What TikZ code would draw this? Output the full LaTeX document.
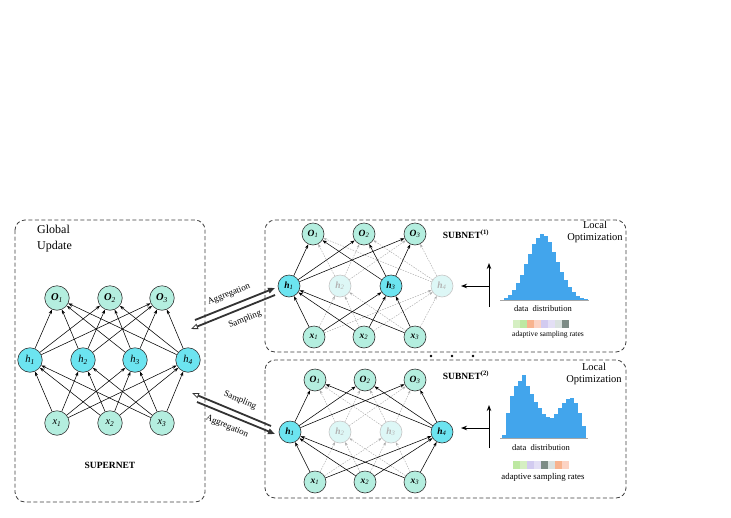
\documentclass[tikz,border=0pt]{standalone}
\usepackage{fontspec}
\setmainfont{Liberation Serif}
\usetikzlibrary{arrows.meta}
\definecolor{nodeteal}{HTML}{B4EEDF}
\definecolor{nodecyan}{HTML}{6CE4F0}
\definecolor{nodefade}{HTML}{DDF7F6}
\definecolor{histblue}{HTML}{42A5EC}
\definecolor{cgA}{HTML}{D5EFC2}
\definecolor{cgB}{HTML}{BDE8A2}
\definecolor{coA}{HTML}{F8B38E}
\definecolor{cpA}{HTML}{FCD3C4}
\definecolor{clA}{HTML}{D2CBF0}
\definecolor{clB}{HTML}{E3DFF5}
\definecolor{cyA}{HTML}{DAE2E0}
\definecolor{cdA}{HTML}{7D8C86}
\newcommand{\nlab}[2]{\textbf{\textit{#1}}\textsubscript{\textit{#2}}}
\newcommand{\ilab}[2]{\textit{#1}\textsubscript{\textit{#2}}}
\begin{document}
\begin{tikzpicture}[x=1pt,y=-1pt,
  neuron/.style={circle, draw=black!80, line width=0.6pt, inner sep=0pt},
  supio/.style={neuron, fill=nodeteal, minimum size=24.5pt, font=\fontsize{10.5}{10.5}\selectfont},
  suphid/.style={neuron, fill=nodecyan, minimum size=24.5pt, font=\fontsize{10.5}{10.5}\selectfont},
  subio/.style={neuron, fill=nodeteal, minimum size=22pt, font=\fontsize{9.5}{9.5}\selectfont},
  subhid/.style={neuron, fill=nodecyan, minimum size=22pt, font=\fontsize{9.5}{9.5}\selectfont},
  subfade/.style={neuron, draw=gray!45, fill=nodefade, text=gray!60, minimum size=22pt, font=\fontsize{9.5}{9.5}\selectfont},
  conn/.style={-{Stealth[length=4.5pt,width=3.2pt]}, line width=0.55pt, black},
  fadeconn/.style={-{Stealth[length=3.5pt,width=2.6pt]}, line width=0.45pt, gray!65, dash pattern=on 1.5pt off 1.2pt},
  dbox/.style={draw=black!75, line width=0.8pt, dash pattern=on 4pt off 2.5pt, rounded corners=10pt},
  bigsolid/.style={-{Triangle[length=7pt,width=5.5pt]}, line width=1.8pt, black!80},
  bigopen/.style={-{Triangle[open,length=7pt,width=5.5pt,line width=0.8pt]}, line width=1.8pt, black!80},
  histarrow/.style={-{Stealth[length=6pt,width=4.5pt]}, line width=1pt, black},
  txt/.style={inner sep=0pt}
]
\useasboundingbox (0,0) rectangle (731,517);
\fill[white] (0,0) rectangle (731,517);

% ---------------- boxes
\draw[dbox] (15,220) rectangle (205,502);
\draw[dbox] (265,220) rectangle (626,352);
\draw[dbox] (265,360) rectangle (626,498);

% ---------------- SUPERNET
\node[supio] (so1) at (57,298) {\nlab{O}{1}};
\node[supio] (so2) at (110,298) {\nlab{O}{2}};
\node[supio] (so3) at (162,298) {\nlab{O}{3}};
\node[suphid] (sh1) at (30,360) {\ilab{h}{1}};
\node[suphid] (sh2) at (83,360) {\ilab{h}{2}};
\node[suphid] (sh3) at (135,360) {\ilab{h}{3}};
\node[suphid] (sh4) at (188,360) {\ilab{h}{4}};
\node[supio] (sx1) at (57,423) {\ilab{x}{1}};
\node[supio] (sx2) at (110,423) {\ilab{x}{2}};
\node[supio] (sx3) at (162,423) {\ilab{x}{3}};
\foreach \i in {1,2,3} \foreach \j in {1,2,3,4} \draw[conn] (sx\i) -- (sh\j);
\foreach \j in {1,2,3,4} \foreach \k in {1,2,3} \draw[conn] (sh\j) -- (so\k);
\node[txt, align=left, anchor=north west, font=\fontsize{12}{16}\selectfont] (glob) at (37,225) {Global\\Update};
\node[txt, font=\bfseries\fontsize{9.5}{10}\selectfont] (supl) at (110,465) {SUPERNET};

% ---------------- SUBNET 1
\node[subio] (ao1) at (313,234) {\nlab{O}{1}};
\node[subio] (ao2) at (364,234) {\nlab{O}{2}};
\node[subio] (ao3) at (415,234) {\nlab{O}{3}};
\node[subhid] (ah1) at (289,286) {\nlab{h}{1}};
\node[subfade] (ah2) at (340,286) {\nlab{h}{2}};
\node[subhid] (ah3) at (391,286) {\nlab{h}{3}};
\node[subfade] (ah4) at (442,286) {\nlab{h}{4}};
\node[subio] (ax1) at (314,337) {\nlab{x}{1}};
\node[subio] (ax2) at (364,337) {\nlab{x}{2}};
\node[subio] (ax3) at (415,337) {\nlab{x}{3}};
\foreach \j in {2,4} {
  \foreach \i in {1,2,3} \draw[fadeconn] (ax\i) -- (ah\j);
  \foreach \k in {1,2,3} \draw[fadeconn] (ah\j) -- (ao\k);
}
\foreach \j in {1,3} {
  \foreach \i in {1,2,3} \draw[conn] (ax\i) -- (ah\j);
  \foreach \k in {1,2,3} \draw[conn] (ah\j) -- (ao\k);
}
\node[txt, font=\bfseries\fontsize{9.5}{10}\selectfont] (sub1) at (466,234) {SUBNET\textsuperscript{(1)}};
\node[txt, align=center, font=\fontsize{10.5}{12.5}\selectfont] (loc1) at (595,232) {Local\\Optimization};

% histogram 1
\foreach \x/\h in {504/2,508/5,512/10,516/17,520/25,524/36,528/46,532/56,536/62,540/66,544/64,548/58,552/48,556/38,560/28,564/20,568/13,572/8,576/4,580/2,584/1}
  \fill[histblue] (\x,300) rectangle ++(4,-\h);
\draw[gray!70, line width=0.6pt] (500,300) -- (589,300);
\node[txt, font=\fontsize{8.5}{9}\selectfont] (dd1) at (543,309) {data\ \ distribution};
\foreach \c [count=\i from 0] in {cgA,cgB,coA,cpA,clA,clB,cyA,cdA}
  \fill[\c] (513+7*\i,320) rectangle ++(7,8);
\node[txt, font=\fontsize{7.6}{8}\selectfont] (asr1) at (548,335) {adaptive sampling rates};
\coordinate (v1b) at (489,307);
\coordinate (v1t) at (489,263);
\coordinate (h1m) at (489,286);
\coordinate (h1l) at (461,286);
\draw[histarrow] (v1b) -- (v1t);
\draw[histarrow] (h1m) -- (h1l);

% ---------------- SUBNET 2
\node[subio] (bo1) at (315,380) {\nlab{O}{1}};
\node[subio] (bo2) at (365,380) {\nlab{O}{2}};
\node[subio] (bo3) at (415,380) {\nlab{O}{3}};
\node[subhid] (bh1) at (290,432) {\nlab{h}{1}};
\node[subfade] (bh2) at (340,432) {\nlab{h}{2}};
\node[subfade] (bh3) at (391,432) {\nlab{h}{3}};
\node[subhid] (bh4) at (442,432) {\nlab{h}{4}};
\node[subio] (bx1) at (315,482) {\nlab{x}{1}};
\node[subio] (bx2) at (365,482) {\nlab{x}{2}};
\node[subio] (bx3) at (415,482) {\nlab{x}{3}};
\foreach \j in {2,3} {
  \foreach \i in {1,2,3} \draw[fadeconn] (bx\i) -- (bh\j);
  \foreach \k in {1,2,3} \draw[fadeconn] (bh\j) -- (bo\k);
}
\foreach \j in {1,4} {
  \foreach \i in {1,2,3} \draw[conn] (bx\i) -- (bh\j);
  \foreach \k in {1,2,3} \draw[conn] (bh\j) -- (bo\k);
}
\node[txt, font=\bfseries\fontsize{9.5}{10}\selectfont] (sub2) at (466,375) {SUBNET\textsuperscript{(2)}};
\node[txt, align=center, font=\fontsize{10.5}{12.5}\selectfont] (loc2) at (594,374) {Local\\Optimization};

% histogram 2
\foreach \x/\h in {502/3,506/25,510/42,514/52,518/57,522/63,526/52,530/44,534/36,538/30,542/24,546/21,550/20,554/24,558/30,562/35,566/39,570/40,574/35,578/25,582/12}
  \fill[histblue] (\x,438) rectangle ++(4,-\h);
\draw[gray!70, line width=0.6pt] (500,438) -- (588,438);
\node[txt, font=\fontsize{8.5}{9}\selectfont] (dd2) at (541,448) {data\ \ distribution};
\foreach \c [count=\i from 0] in {cgB,cgA,clA,clB,cdA,cyA,coA,cpA}
  \fill[\c] (513+7*\i,461) rectangle ++(7,8);
\node[txt, font=\fontsize{8.8}{9}\selectfont] (asr2) at (543,477) {adaptive sampling rates};
\coordinate (v2b) at (489,448);
\coordinate (v2t) at (489,405);
\coordinate (h2m) at (489,428);
\coordinate (h2l) at (461,428);
\draw[histarrow] (v2b) -- (v2t);
\draw[histarrow] (h2m) -- (h2l);

% dots between subnets
\fill (431,356) circle (1.3pt);
\fill (452,356) circle (1.3pt);
\fill (473,356) circle (1.3pt);

% ---------------- middle arrows
\coordinate (ag1s) at (195,320);
\coordinate (ag1e) at (275,288);
\coordinate (sa1s) at (275,295);
\coordinate (sa1e) at (191,329);
\draw[bigsolid] (ag1s) -- (ag1e);
\draw[bigopen] (sa1s) -- (sa1e);
\node[txt, rotate=22, font=\fontsize{9}{9}\selectfont] (agl1) at (229,294.5) {Aggregation};
\node[txt, rotate=22, font=\fontsize{9}{9}\selectfont] (sal1) at (245,319.5) {Sampling};

\coordinate (sa2s) at (271,426);
\coordinate (sa2e) at (192,393);
\coordinate (ag2s) at (197,402);
\coordinate (ag2e) at (275,434);
\draw[bigopen] (sa2s) -- (sa2e);
\draw[bigsolid] (ag2s) -- (ag2e);
\node[txt, rotate=-23, font=\fontsize{9}{9}\selectfont] (sal2) at (240,400.5) {Sampling};
\node[txt, rotate=-23, font=\fontsize{9}{9}\selectfont] (agl2) at (227,426.5) {Aggregation};
\end{tikzpicture}
\end{document}
